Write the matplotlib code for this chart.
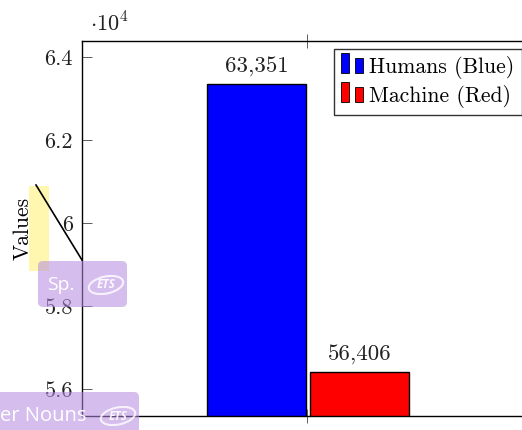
#!/usr/bin/env python3
import matplotlib
matplotlib.use("Agg")
import matplotlib.pyplot as plt
from matplotlib.legend_handler import HandlerBase
from matplotlib.patches import Ellipse, FancyBboxPatch, Rectangle
from matplotlib.lines import Line2D

W, H = 522, 430

labels = ["Humans (Blue)", "Machine (Red)"]
values = [63351, 56406]
colors = ["#0000ff", "#ff0000"]
yticks = [56000, 58000, 60000, 62000, 64000]
yticklabels = ["5.6", "5.8", "6", "6.2", "6.4"]


def px(x, y):
    # pixel position in the picture -> figure fraction
    return x / W, 1 - y / H


class TwoBars(HandlerBase):
    # legend key made of a tall and a shorter bar
    def create_artists(self, legend, orig, xd, yd, width, height, fontsize, trans):
        a = Rectangle((0, 0), 5.8, 14, facecolor=orig.get_facecolor(),
                      edgecolor="black", lw=0.6, transform=trans)
        b = Rectangle((10, 0), 5.8, 11, facecolor=orig.get_facecolor(),
                      edgecolor="black", lw=0.6, transform=trans)
        return [a, b]


def add_tag(fig, x0, y0, x1, y1, text, size, text_x, logo_x, logo_y):
    fig.add_artist(FancyBboxPatch((x0, H - y1), x1 - x0, y1 - y0,
                                  boxstyle="round,pad=0,rounding_size=5",
                                  transform=pix, facecolor="#b48ae0", alpha=0.55,
                                  edgecolor="none", zorder=5))
    fig.text(*px(text_x, logo_y), text, color="white", fontsize=size,
             family="Open Sans", ha="left", va="center", zorder=6)
    fig.add_artist(Ellipse((logo_x, H - logo_y), 35, 17, angle=12, transform=pix,
                           facecolor="none", edgecolor="white", lw=1.5, alpha=0.8, zorder=6))
    fig.text(*px(logo_x, logo_y), "ETS", color="white", fontsize=8.5, family="Open Sans",
             weight="bold", style="italic", ha="center", va="center", alpha=0.9, zorder=6)


fig = plt.figure(figsize=(W / 100, H / 100), dpi=100)
ax = fig.add_axes([82 / W, 1 - 415.7 / H, 450 / W, 374.7 / H])

# pixel coordinates with the origin at the lower left of the picture
pix = matplotlib.transforms.IdentityTransform()

bars = ax.bar([0, 1], values, width=0.96, color=colors, edgecolor="black", linewidth=1)
ax.set_xlim(-1.694, 2.675)
ax.set_ylim(55356, 64393)
ax.set_xticks([0.495])
ax.set_xticklabels([""])
ax.set_yticks(yticks)
ax.set_yticklabels(yticklabels, family="cmr10", fontsize=16, color="#222222")
ax.tick_params(axis="y", direction="in", length=7, width=0.6, color="#444444", pad=6.5)
ax.tick_params(axis="x", direction="inout", length=10, width=0.6, color="#444444", top=True)
ax.set_ylabel("Values", family="cmr10", fontsize=15.5)
ax.yaxis.set_label_coords((33 - 82) / 450, 0.5)
for s in ax.spines.values():
    s.set_linewidth(1)

for b, v in zip(bars, values):
    ax.annotate(f"{v:,}", (b.get_x() + b.get_width() / 2, v), xytext=(0, 5.5),
                textcoords="offset points", ha="center", va="bottom",
                family="cmr10", fontsize=16.5, color="#222222")

fig.text(*px(90, 23), r"$\cdot 10^{4}$", fontsize=16, ha="left", va="center",
         math_fontfamily="cm", color="#222222")

handles = [Rectangle((0, 0), 1, 1, facecolor=c) for c in colors]
leg = ax.legend(handles, labels, handler_map={Rectangle: TwoBars()},
                loc="upper left", bbox_to_anchor=px(334, 49), bbox_transform=fig.transFigure,
                prop={"family": "cmr10", "size": 15.6}, fancybox=False, framealpha=1,
                edgecolor="#333333", handlelength=1.03, handletextpad=0.28,
                borderaxespad=0, borderpad=0.32, labelspacing=0.27)
leg.get_frame().set_linewidth(1)

# highlight, pointer line and tags lying on top of the chart
fig.add_artist(Rectangle((29, H - 271), 20, 85, transform=pix, facecolor="#fff27a",
                         alpha=0.6, edgecolor="none", zorder=4))
fig.add_artist(Line2D([36 / W, 82 / W], [1 - 185 / H, 1 - 260 / H], color="black",
                      lw=1.2, zorder=7))
add_tag(fig, 38, 261, 127, 307, "Sp.", 14, 47, 106, 285)
add_tag(fig, -10, 392, 139, 440, "er Nouns", 14.5, 0, 118, 416)

fig.savefig("out.png", dpi=100)
